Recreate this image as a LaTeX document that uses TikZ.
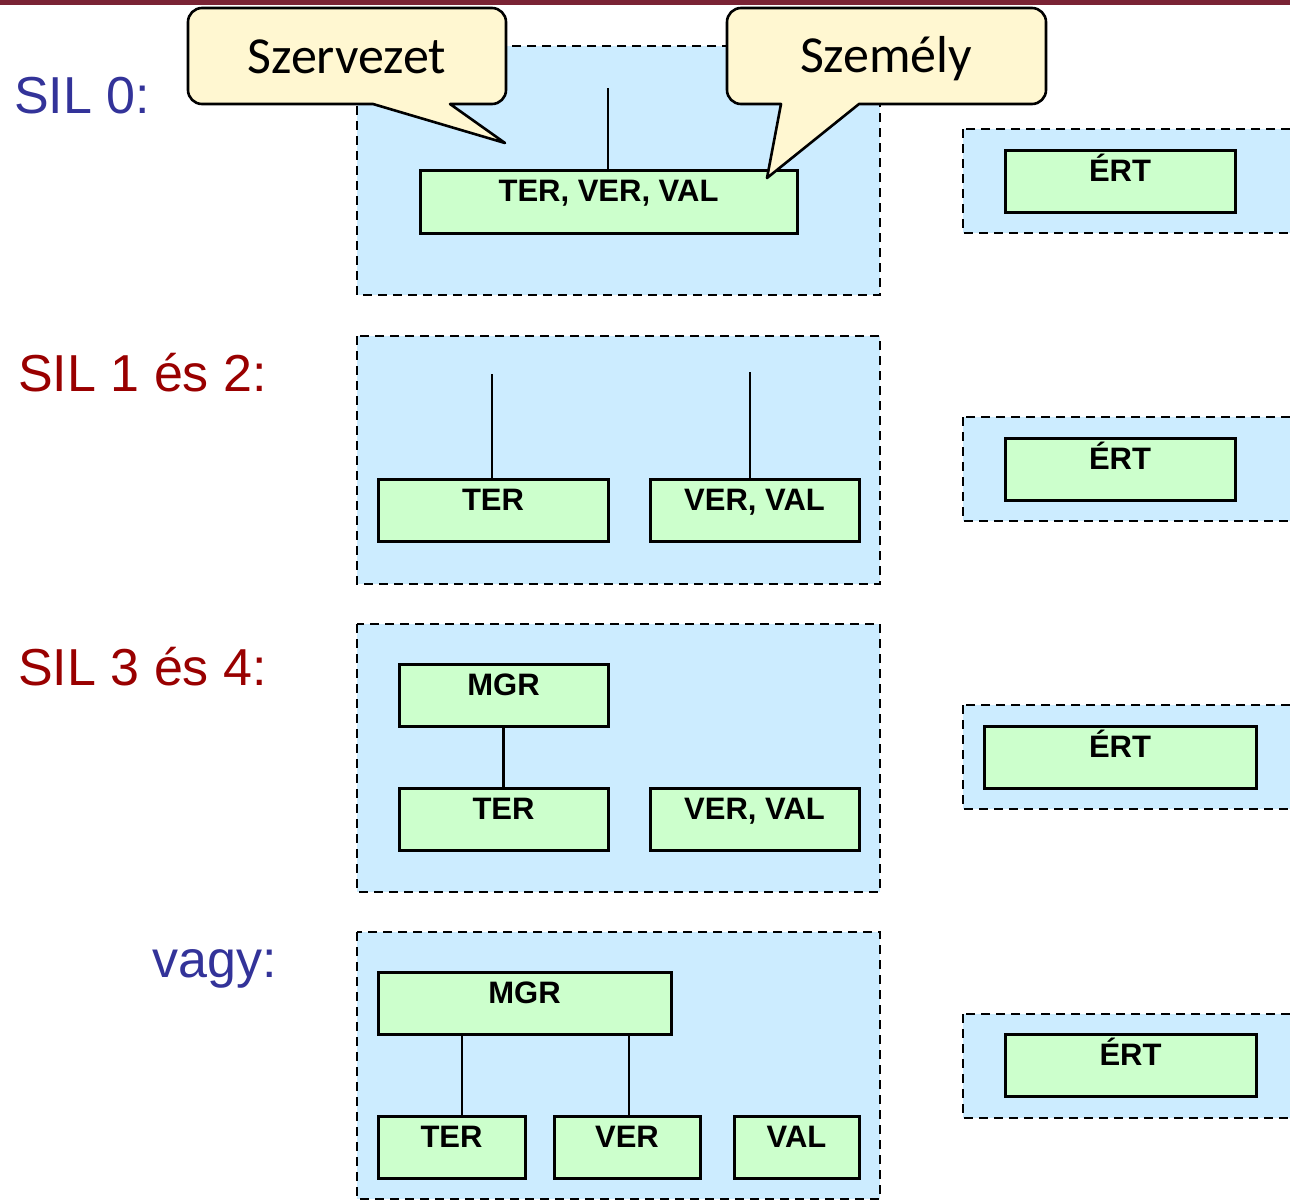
\documentclass[tikz,border=0pt]{standalone}
\usepackage{fontspec}
\setmainfont{Liberation Sans}
\newfontfamily\calloutfont{Carlito}
\definecolor{panelblue}{HTML}{CCECFF}
\definecolor{unitgreen}{HTML}{CCFFCC}
\definecolor{noteyellow}{HTML}{FFF7D1}
\definecolor{silblue}{HTML}{333399}
\definecolor{silred}{HTML}{990000}
\definecolor{topbar}{HTML}{7A2335}
\tikzset{
  panel/.style={draw=black, line width=2.4pt, dash pattern=on 9pt off 6pt, fill=panelblue},
  unit/.style={draw=black, line width=3pt, fill=unitgreen, anchor=north west,
    inner sep=0pt, outer sep=0pt},
  unittext/.style={font=\fontsize{31}{37}\selectfont\bfseries, anchor=base, inner sep=0pt},
  link/.style={line width=2.4pt},
  sillabel/.style={font=\fontsize{52}{60}\selectfont, inner sep=0pt},
  note/.style={draw=black, line width=2.6pt, fill=noteyellow, line join=round},
  notetext/.style={font=\calloutfont\fontsize{52}{60}\selectfont, anchor=base, inner sep=0pt},
}
% green unit box: name, left, top, right, bottom, caption
\newcommand\unitbox[6]{%
  \node[unit, minimum width={(#4-#2)*1pt}, minimum height={(#5-#3)*1pt}] (#1) at (#2,-#3) {};
  \node[unittext] (#1-txt) at ([yshift=-31pt]#1.north) {#6};
}
\begin{document}
\begin{tikzpicture}[x=1pt,y=1pt]
\path[use as bounding box] (0,0) rectangle (1290,-1200);
\clip (0,0) rectangle (1290,-1200);

% title bar
\fill[topbar] (0,0) rectangle (1290,-4.5);

% level labels
\node[sillabel, text=silblue, anchor=base west] (sil0) at (14,-113) {SIL 0:};
\node[sillabel, text=silred, anchor=base west] (sil12) at (18,-391) {SIL 1 és 2:};
\node[sillabel, text=silred, anchor=base west] (sil34) at (18,-685) {SIL 3 és 4:};
\node[sillabel, text=silblue, anchor=base east] (vagy) at (277,-977) {vagy:};

% dashed system boundaries
\draw[panel] (357,-46) rectangle (880,-295);
\draw[panel] (357,-336) rectangle (880,-584);
\draw[panel] (357,-624) rectangle (880,-892);
\draw[panel] (357,-932) rectangle (880,-1199);
\draw[panel] (963,-129) rectangle (1300,-233);
\draw[panel] (963,-417) rectangle (1300,-521);
\draw[panel] (963,-705) rectangle (1300,-809);
\draw[panel] (963,-1014) rectangle (1300,-1118);

% SIL 0
\unitbox{tvv0}{420}{170}{797}{233}{TER, VER, VAL}
\unitbox{ert0}{1005}{150}{1235}{212}{ÉRT}
\coordinate (top0) at (608,-88);
\draw[link] (top0) -- (top0 |- tvv0.north);

% SIL 1 and 2
\unitbox{ter1}{378}{479}{608}{541}{TER}
\unitbox{vv1}{650}{479}{859}{541}{VER, VAL}
\unitbox{ert1}{1005}{438}{1235}{500}{ÉRT}
\coordinate (top1a) at (492,-374);
\coordinate (top1b) at (750,-372);
\draw[link] (top1a) -- (top1a |- ter1.north);
\draw[link] (top1b) -- (top1b |- vv1.north);

% SIL 3 and 4
\unitbox{mgr3}{399}{664}{608}{726}{MGR}
\unitbox{ter3}{399}{788}{608}{850}{TER}
\unitbox{vv3}{650}{788}{859}{850}{VER, VAL}
\unitbox{ert3}{984}{726}{1256}{788}{ÉRT}
\draw[link] (mgr3.south) -- (ter3.north);

% alternative
\unitbox{mgr4}{378}{972}{671}{1034}{MGR}
\unitbox{ter4}{378}{1116}{525}{1178}{TER}
\unitbox{ver4}{554}{1116}{700}{1178}{VER}
\unitbox{val4}{734}{1116}{859}{1178}{VAL}
\unitbox{ert4}{1005}{1034}{1256}{1096}{ÉRT}
\coordinate (c4a) at (462,0);
\coordinate (c4b) at (629,0);
\draw[link] (mgr4.south -| c4a) -- (ter4.north -| c4a);
\draw[link] (mgr4.south -| c4b) -- (ver4.north -| c4b);

% callouts
\draw[note] (202,-8) -- (492,-8) arc[start angle=90,end angle=0,radius=14pt]
  -- (506,-90) arc[start angle=0,end angle=-90,radius=14pt]
  -- (450,-104) -- (505,-143) -- (373,-104)
  -- (202,-104) arc[start angle=270,end angle=180,radius=14pt]
  -- (188,-22) arc[start angle=180,end angle=90,radius=14pt] -- cycle;
\node[notetext] (szervezet) at (347,-73) {Szervezet};

\draw[note] (741,-8) -- (1032,-8) arc[start angle=90,end angle=0,radius=14pt]
  -- (1046,-90) arc[start angle=0,end angle=-90,radius=14pt]
  -- (859,-104) -- (767,-178) -- (781,-104)
  -- (741,-104) arc[start angle=270,end angle=180,radius=14pt]
  -- (727,-22) arc[start angle=180,end angle=90,radius=14pt] -- cycle;
\node[notetext] (szemely) at (886,-72) {Személy};
\end{tikzpicture}
\end{document}
